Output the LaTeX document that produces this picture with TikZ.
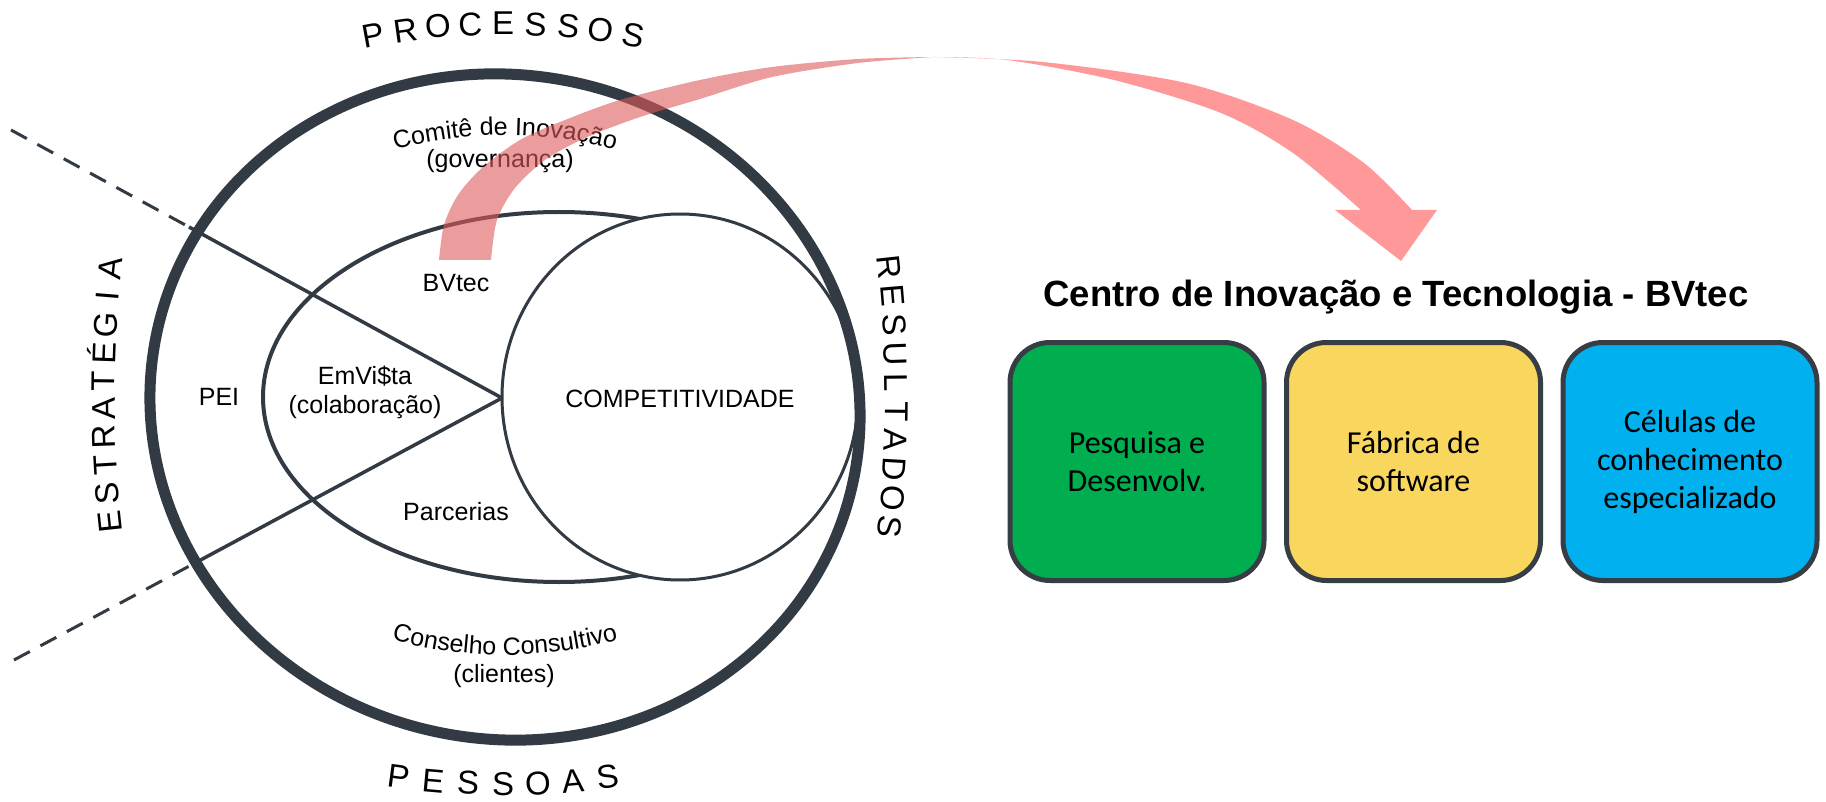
\documentclass[tikz,border=0pt]{standalone}
\usepackage{fontspec}
\setmainfont{Liberation Sans}
\newfontfamily\carlito{Carlito}
\usetikzlibrary{decorations.text}
\definecolor{ink}{HTML}{323A43}
\definecolor{boxline}{HTML}{373D44}
\definecolor{gbox}{HTML}{00AE4F}
\definecolor{ybox}{HTML}{F9D75F}
\definecolor{bbox}{HTML}{00B0EF}
\definecolor{bandL}{RGB}{222,90,90}
\definecolor{bandR}{RGB}{255,153,153}
\begin{document}
\begin{tikzpicture}[x=1pt,y=-1pt,
  lbl/.style={inner sep=0pt, font=\fontsize{25}{29}\selectfont, text=black},
  bigletter/.style={inner sep=0pt, font=\fontsize{33}{33}\selectfont, text height=23.6pt, text depth=0pt, anchor=center},
  unitbox/.style={draw=boxline, line width=5pt, rounded corners=40pt, minimum width=254pt, minimum height=238pt, align=center, font=\carlito\fontsize{32}{38}\selectfont, inner sep=0pt},
  thinline/.style={ink, line width=3.5pt},
  dashline/.style={ink, line width=3pt, dash pattern=on 18pt off 12pt}]
\useasboundingbox (0,0) rectangle (1826,802);
\fill[white] (0,0) rectangle (1826,802);

% coordinates
\coordinate (apex) at (502,398);
\coordinate (ucross) at (189,227);
\coordinate (uend) at (11,130);
\coordinate (lcross) at (195,563);
\coordinate (lend) at (14,660);

% middle oval
\draw[ink, line width=4pt] (559,397) ellipse[x radius=296, y radius=185];
% lines
\draw[thinline] (ucross) -- (apex);
\draw[thinline] (lcross) -- (apex);
\draw[dashline] (uend) -- (ucross);
\draw[dashline] (lend) -- (lcross);
% competitividade circle
\draw[ink, line width=3pt, fill=white] (680,397) ellipse[x radius=178, y radius=183];
% outer ellipse
\draw[ink, line width=11pt, rotate around={-12:(505,407)}] (505,407) ellipse[x radius=356, y radius=332];

% outer words
\foreach \l [count=\i] in {P,R,O,C,E,S,S,O,S} {
  \pgfmathsetmacro{\a}{(\i-5)*2.62}
  \pgfmathsetmacro{\r}{-\a}
  \node[bigletter, rotate=\r] (proc\i) at ({503+715*sin(\a)},{738-715*cos(\a)}) {\l};
}
\foreach \l [count=\i] in {P,E,S,S,O,A,S} {
  \pgfmathsetmacro{\a}{(\i-4)*2.55}
  \node[bigletter, rotate=\a] (pess\i) at ({503+785*sin(\a)},{-1.5+785*cos(\a)}) {\l};
}
\foreach \l [count=\i] in {E,S,T,R,A,T,É,G,I,A} {
  \pgfmathsetmacro{\a}{(\i-5.5)*1.346}
  \pgfmathsetmacro{\r}{90-\a}
  \node[bigletter, rotate=\r] (estr\i) at ({1303-1200*cos(\a)},{395-1200*sin(\a)}) {\l};
}
\foreach \l [count=\i] in {R,E,S,U,L,T,A,D,O,S} {
  \pgfmathsetmacro{\a}{(5.5-\i)*1.38}
  \pgfmathsetmacro{\r}{-90+\a}
  \node[bigletter, rotate=\r] (resu\i) at ({-303+1200*cos(\a)},{397-1200*sin(\a)}) {\l};
}

% inner labels
\coordinate (ca) at (360,160);
\coordinate (cb) at (456.7,126.7);
\coordinate (cc) at (553.3,126.7);
\coordinate (cd) at (650,160);
\path[decorate, decoration={text along path, text align=center,
  text={|\fontsize{25}{29}\selectfont|Comitê de Inovação}}] (ca) .. controls (cb) and (cc) .. (cd);
\node[lbl, anchor=base] (gov) at (500,168) {(governança)};

\coordinate (sa) at (360,630);
\coordinate (sb) at (456.7,663.3);
\coordinate (sc) at (553.3,663.3);
\coordinate (sd) at (650,630);
\path[decorate, decoration={text along path, text align=center,
  text={|\fontsize{25}{29}\selectfont|Conselho Consultivo}}] (sa) .. controls (sb) and (sc) .. (sd);
\node[lbl, anchor=base] (cli) at (504,682) {(clientes)};

\node[lbl, anchor=base] (pei) at (219,405) {PEI};
\node[lbl, anchor=base] (bvt) at (456,292) {BVtec};
\node[lbl, align=center] (emv) at (365,392.5) {EmVi\$ta\\(colaboração)};
\node[lbl, anchor=base] (comp) at (680,407) {COMPETITIVIDADE};
\node[lbl, anchor=base] (parc) at (456,520) {Parcerias};

% red curved arrow
\fill[bandL, fill opacity=0.6]
  plot[smooth, tension=0.5] coordinates {(439,260) (444,225) (458,195) (482,168) (520,140) (565,120) (620,100) (700,80) (772,67) (858,59) (933,57)}
  -- plot[smooth, tension=0.5] coordinates {(933,57) (858,63) (772,77) (700,99) (640,117) (585,138) (545,160) (515,188) (497,220) (491,260)}
  -- cycle;
\fill[bandR]
  plot[smooth, tension=0.5] coordinates {(933,57) (1043,62) (1186,83) (1293,120) (1364,163) (1412,210)}
  -- (1437,210) -- (1401,261) -- (1335,210) -- (1361,210)
  -- plot[smooth, tension=0.5] coordinates {(1361,210) (1293,153) (1221,113) (1114,80) (1007,60) (933,57)}
  -- cycle;

% right panel
\node[anchor=base, inner sep=0pt, font=\bfseries\fontsize{36.5}{40}\selectfont] (title) at (1396,307) {Centro de Inovação e Tecnologia - BVtec};
\node[unitbox, fill=gbox] (pd) at (1137,461.5) {Pesquisa e\\Desenvolv.};
\node[unitbox, fill=ybox] (fs) at (1413.5,461.5) {Fábrica de\\software};
\node[unitbox, fill=bbox] (ce) at (1690,461.5) {Células de\\conhecimento\\especializado};
\end{tikzpicture}
\end{document}
